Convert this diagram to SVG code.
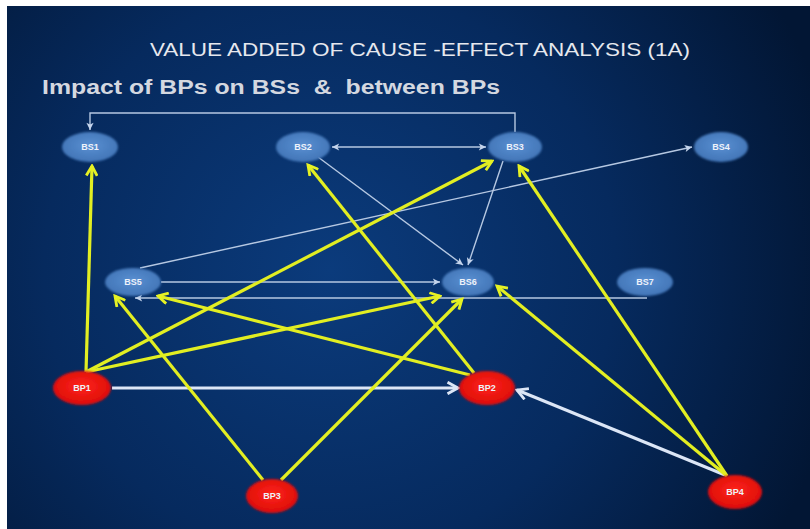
<svg xmlns="http://www.w3.org/2000/svg" width="810" height="529" viewBox="0 0 810 529">
  <defs>
    <radialGradient id="bg" cx="330" cy="270" r="520" gradientUnits="userSpaceOnUse">
      <stop offset="0" stop-color="#0b3b7c"/>
      <stop offset="0.55" stop-color="#062a5e"/>
      <stop offset="1" stop-color="#021634"/>
    </radialGradient>
    <radialGradient id="bsFill" cx="0.5" cy="0.45" r="0.6">
      <stop offset="0" stop-color="#5a90d2"/>
      <stop offset="1" stop-color="#3f72b4"/>
    </radialGradient>
    <radialGradient id="bpFill" cx="0.5" cy="0.45" r="0.6">
      <stop offset="0" stop-color="#ff2418"/>
      <stop offset="1" stop-color="#d80a0a"/>
    </radialGradient>
    <filter id="soft" x="-20%" y="-20%" width="140%" height="140%">
      <feGaussianBlur stdDeviation="1.2"/>
    </filter>
    <marker id="arrY" markerUnits="userSpaceOnUse" viewBox="0 0 12 12" refX="10" refY="6" markerWidth="13" markerHeight="13" orient="auto">
      <path d="M1,1 L10,6 L1,11" fill="none" stroke="#e6f224" stroke-width="2.6" stroke-linejoin="miter"/>
    </marker>
    <marker id="arrW" markerUnits="userSpaceOnUse" viewBox="0 0 10 10" refX="9" refY="5" markerWidth="9" markerHeight="9" orient="auto-start-reverse">
      <path d="M1,1 L9,5 L1,9 L3,5 Z" fill="#c4d4ec"/>
    </marker>
    <marker id="arrWB" markerUnits="userSpaceOnUse" viewBox="0 0 12 12" refX="10" refY="6" markerWidth="14" markerHeight="14" orient="auto">
      <path d="M1,1 L10,6 L1,11" fill="none" stroke="#dce6f6" stroke-width="2.4"/>
    </marker>
    <style>
      .title { font-family: "Liberation Sans", Arial, sans-serif; font-size: 18px; fill: #e6e8ee; }
      .sub { font-family: "Liberation Sans", Arial, sans-serif; font-size: 20px; font-weight: bold; fill: #d4d8e0; white-space: pre; }
      .lbl { font-family: "Liberation Sans", Arial, sans-serif; font-size: 9px; font-weight: bold; fill: #eef2fa; text-anchor: middle; }
      .bs { fill: url(#bsFill); }
      .bp { fill: url(#bpFill); }
      .y { fill: none; stroke: #e2ee22; stroke-width: 3.2; marker-end: url(#arrY); }
      .w { fill: none; stroke: #b6c8e2; stroke-width: 1.4; marker-end: url(#arrW); }
      .wb { fill: none; stroke: #dce6f6; stroke-width: 3; marker-end: url(#arrWB); }
    </style>
  </defs>

  <!-- page frame and backdrop -->
  <rect x="0" y="0" width="810" height="529" fill="#ffffff"/>
  <rect x="7" y="6" width="803" height="523" fill="url(#bg)"/>

  <text class="title" x="420" y="56" text-anchor="middle" textLength="540" lengthAdjust="spacingAndGlyphs">VALUE ADDED OF CAUSE -EFFECT ANALYSIS (1A)</text>
  <text class="sub" x="42" y="94" xml:space="preserve" textLength="458" lengthAdjust="spacingAndGlyphs">Impact of BPs on BSs  &amp;  between BPs</text>

  <g id="connectors">
    <!-- links between business success factors -->
    <path class="w" d="M515,132 V113 H90 V130"/>
    <path class="w" d="M332,147 H486" marker-start="url(#arrW)"/>
    <path class="w" d="M318,157 L463,265"/>
    <path class="w" d="M503,161 L468,265"/>
    <path class="w" d="M140,268 L692,147"/>
    <path class="w" d="M161,282 H440"/>
    <path class="w" d="M647,298 H135"/>
    <!-- process to process -->
    <path class="wb" d="M112,388 H458"/>
    <path class="wb" d="M725,475 L517,390"/>
    <!-- process impacts -->
    <path class="y" d="M86,372 L92,166"/>
    <path class="y" d="M86,372 L492,161"/>
    <path class="y" d="M86,372 L440,296"/>
    <path class="y" d="M474,373 L308,165"/>
    <path class="y" d="M470,375 L158,296"/>
    <path class="y" d="M263,480 L115,296"/>
    <path class="y" d="M281,480 L462,299"/>
    <path class="y" d="M727,476 L519,166"/>
    <path class="y" d="M727,476 L497,286"/>
  </g>

  <g id="BS1"><ellipse class="bs" cx="90" cy="147" rx="28" ry="15" filter="url(#soft)"/><text class="lbl" x="90" y="150">BS1</text></g>
  <g id="BS2"><ellipse class="bs" cx="303" cy="147" rx="27" ry="15" filter="url(#soft)"/><text class="lbl" x="303" y="150">BS2</text></g>
  <g id="BS3"><ellipse class="bs" cx="515" cy="147" rx="27" ry="15" filter="url(#soft)"/><text class="lbl" x="515" y="150">BS3</text></g>
  <g id="BS4"><ellipse class="bs" cx="721" cy="147" rx="27" ry="15" filter="url(#soft)"/><text class="lbl" x="721" y="150">BS4</text></g>
  <g id="BS5"><ellipse class="bs" cx="133" cy="282" rx="28" ry="14" filter="url(#soft)"/><text class="lbl" x="133" y="285">BS5</text></g>
  <g id="BS6"><ellipse class="bs" cx="468" cy="282" rx="26" ry="14" filter="url(#soft)"/><text class="lbl" x="468" y="285">BS6</text></g>
  <g id="BS7"><ellipse class="bs" cx="645" cy="282" rx="28" ry="14" filter="url(#soft)"/><text class="lbl" x="645" y="285">BS7</text></g>

  <g id="BP1"><ellipse class="bp" cx="82" cy="388" rx="29" ry="17" filter="url(#soft)"/><text class="lbl" x="82" y="391">BP1</text></g>
  <g id="BP2"><ellipse class="bp" cx="487" cy="388" rx="28" ry="17" filter="url(#soft)"/><text class="lbl" x="487" y="391">BP2</text></g>
  <g id="BP3"><ellipse class="bp" cx="272" cy="496" rx="26" ry="17" filter="url(#soft)"/><text class="lbl" x="272" y="499">BP3</text></g>
  <g id="BP4"><ellipse class="bp" cx="735" cy="492" rx="27" ry="17" filter="url(#soft)"/><text class="lbl" x="735" y="495">BP4</text></g>
</svg>
